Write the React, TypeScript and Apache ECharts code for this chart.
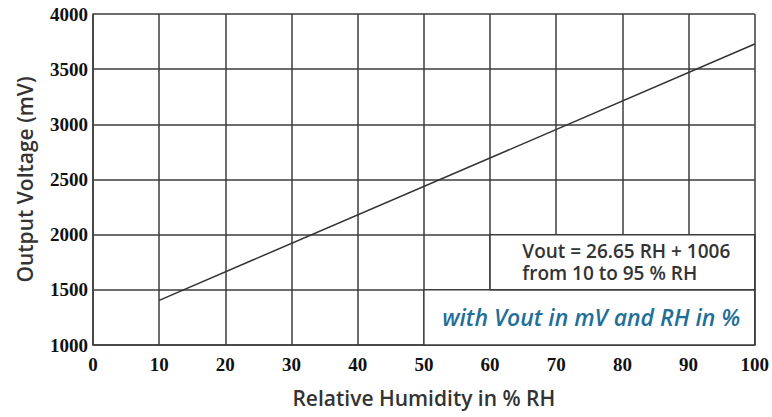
import React, { useEffect, useRef } from "react";
import * as echarts from "echarts";

const rhPoints: number[] = [10, 100];
const voutPoints: number[] = [1405, 3728];
const xTicks = { min: 0, max: 100, interval: 10 };
const yTicks = { min: 1000, max: 4000, interval: 500 };
const formulaLines: string[] = ["Vout = 26.65 RH + 1006", "from 10 to 95 % RH"];
const unitsNote = "with Vout in mV and RH in %";
const xName = "Relative Humidity in % RH";
const yName = "Output Voltage (mV)";

const GRID = "#3c3c3c";

export default function App() {
  const ref = useRef<HTMLDivElement>(null);
  useEffect(() => {
    document.body.style.margin = "0";
    const chart = echarts.init(ref.current!, null, { renderer: "svg" });
    const tickLabel = {
      fontFamily: "Liberation Serif",
      fontWeight: "bold" as const,
      fontSize: 19,
      color: "#111",
      formatter: (v: number) => String(v),
    };
    const nameStyle = {
      fontFamily: "Open Sans",
      fontWeight: 600 as const,
      fontSize: 21,
      color: "#333",
    };
    chart.setOption({
      animation: false,
      backgroundColor: "#fff",
      grid: { left: 93, top: 14, right: 12, bottom: 72 },
      xAxis: {
        type: "value",
        ...xTicks,
        name: xName,
        nameLocation: "middle",
        nameGap: 42,
        nameTextStyle: nameStyle,
        axisLine: { show: true, lineStyle: { color: GRID, width: 1.5 } },
        axisTick: { show: false },
        axisLabel: { ...tickLabel, margin: 10 },
        splitLine: { show: true, lineStyle: { color: GRID, width: 1.5 } },
      },
      yAxis: {
        type: "value",
        ...yTicks,
        name: yName,
        nameLocation: "middle",
        nameGap: 58,
        nameTextStyle: nameStyle,
        axisLine: { show: true, lineStyle: { color: GRID, width: 1.5 } },
        axisTick: { show: false },
        axisLabel: { ...tickLabel, margin: 5 },
        splitLine: { show: true, lineStyle: { color: GRID, width: 1.5 } },
      },
      series: [
        {
          type: "line",
          data: rhPoints.map((x, i) => [x, voutPoints[i]]),
          showSymbol: false,
          lineStyle: { color: "#333", width: 1.5 },
          z: 5,
          markArea: {
            silent: true,
            data: [
              [
                {
                  xAxis: 50,
                  yAxis: 1000,
                  itemStyle: { color: "#fff", borderColor: GRID, borderWidth: 1.5 },
                  label: {
                    show: true,
                    position: "inside",
                    offset: [2, 0],
                    formatter: unitsNote,
                    fontFamily: "Open Sans",
                    fontStyle: "italic",
                    fontWeight: 600,
                    fontSize: 23,
                    color: "#1f6f99",
                  },
                },
                { xAxis: 100, yAxis: 1500 },
              ],
              [
                {
                  xAxis: 60,
                  yAxis: 1500,
                  itemStyle: { color: "#fff", borderColor: GRID, borderWidth: 1.5 },
                  label: {
                    show: true,
                    position: "insideLeft",
                    offset: [28, 0],
                    formatter: formulaLines.join("\n"),
                    fontFamily: "Open Sans",
                    fontWeight: 600,
                    fontSize: 19,
                    lineHeight: 22,
                    color: "#333",
                    align: "left",
                  },
                },
                { xAxis: 100, yAxis: 2000 },
              ],
            ],
          },
        },
      ],
    });
    return () => chart.dispose();
  }, []);
  return (
    <div
      ref={ref}
      style={{ position: "fixed", left: 0, top: 0, width: 772, height: 417 }}
    />
  );
}
